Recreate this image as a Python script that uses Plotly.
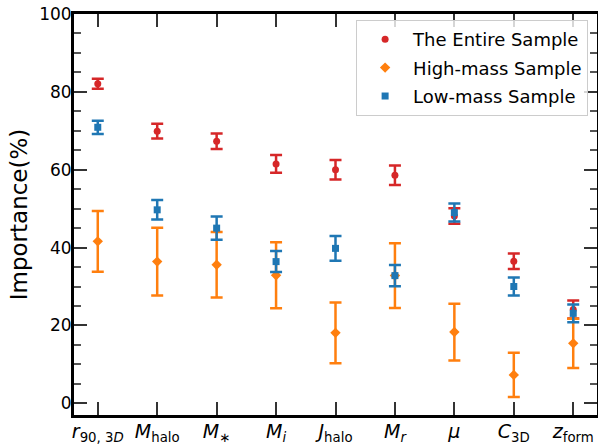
import plotly.graph_objects as go

categories = [
    "<i>r</i><sub>90, 3<i>D</i></sub>",
    "<i>M</i><sub>halo</sub>",
    "<i>M</i><sub>∗</sub>",
    "<i>M</i><sub><i>i</i></sub>",
    "<i>J</i><sub>halo</sub>",
    "<i>M</i><sub><i>r</i></sub>",
    "<i>μ</i>",
    "<i>C</i><sub>3D</sub>",
    "<i>z</i><sub>form</sub>",
]

entire_vals = [82.1, 69.9, 67.3, 61.5, 60.0, 58.6, 48.1, 36.5, 24.1]
entire_err = [1.3, 1.9, 2.0, 2.3, 2.5, 2.5, 2.0, 2.0, 2.3]

high_vals = [41.6, 36.4, 35.6, 32.9, 18.1, 32.8, 18.3, 7.3, 15.4]
high_err = [7.8, 8.7, 8.4, 8.5, 7.8, 8.3, 7.3, 5.7, 6.3]

low_vals = [70.9, 49.7, 45.0, 36.4, 39.8, 32.8, 49.0, 30.0, 23.1]
low_err = [1.7, 2.5, 3.0, 2.7, 3.2, 2.7, 2.3, 2.3, 2.3]

series = [
    ("The Entire Sample", entire_vals, entire_err, "#d62728", "circle", 7),
    ("High-mass Sample", high_vals, high_err, "#ff7f0e", "diamond", 8),
    ("Low-mass Sample", low_vals, low_err, "#1f77b4", "square", 7),
]

FONT = "DejaVu Sans"

fig = go.Figure()
for name, vals, errs, color, symbol, size in series:
    fig.add_trace(go.Scatter(
        x=categories, y=vals, name=name, mode="markers",
        marker=dict(color=color, symbol=symbol, size=size),
        error_y=dict(type="data", array=errs, visible=True, color=color,
                     thickness=2.5, width=6),
        legendgroup=name,
    ))

fig.update_layout(
    width=598, height=446,
    margin=dict(l=74, r=1, t=14, b=31),
    plot_bgcolor="white", paper_bgcolor="white",
    font=dict(family=FONT, color="black", size=17),
    showlegend=True,
    legend=dict(
        x=0.983, y=0.985, xanchor="right", yanchor="top",
        bgcolor="rgba(255,255,255,0.8)", bordercolor="#cccccc", borderwidth=1,
        font=dict(family=FONT, size=18),
        tracegroupgap=2, itemwidth=46,
    ),
)
fig.update_xaxes(
    type="category", range=[-0.4, 8.4], automargin=False,
    showline=True, linecolor="black", linewidth=3, mirror="allticks",
    ticks="inside", ticklen=13, tickwidth=1.5, tickcolor="#333",
    showgrid=False, zeroline=False, ticklabelstandoff=-3,
    tickfont=dict(family=FONT, size=19),
)
fig.update_yaxes(
    range=[-3, 100], tickvals=[0, 20, 40, 60, 80, 100], automargin=False,
    showline=True, linecolor="black", linewidth=3, mirror="allticks",
    ticks="inside", ticklen=13, tickwidth=1.5, tickcolor="#333",
    minor=dict(dtick=5, ticks="inside", ticklen=7, tickwidth=1.5, tickcolor="#555", showgrid=False),
    showgrid=False, zeroline=False, ticklabelstandoff=-4,
    tickfont=dict(family=FONT, size=17),
    title=dict(text="Importance(%)", font=dict(family=FONT, size=23), standoff=6),
)

fig.write_html("out.html", config={"displayModeBar": False},
               post_script="document.body.style.margin='0';document.body.style.overflow='hidden';")
